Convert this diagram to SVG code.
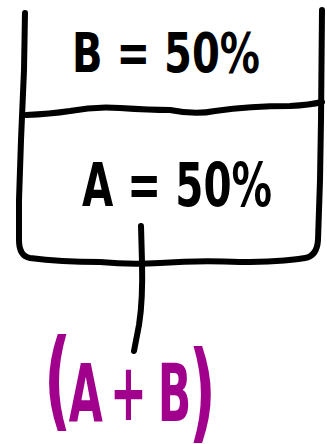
<svg xmlns="http://www.w3.org/2000/svg" width="327" height="444" viewBox="0 0 327 444">
<style>
.ink{fill:none;stroke:#000;stroke-width:6;stroke-linecap:round;stroke-linejoin:round}
.lbl{font-family:"DejaVu Sans","Liberation Sans",sans-serif;font-weight:bold;fill:#000}
.mix{font-family:"DejaVu Sans","Liberation Sans",sans-serif;font-weight:bold;fill:#A0008C}
</style>
<rect width="327" height="444" fill="#fff"/>
<g id="container">
<path class="ink" d="M25,13 L24,70 L21,140 L19,200 L19,240 Q19,256 30,258 Q60,262 100,262 Q130,265 160,263 Q200,260 240,262 Q280,262 305,258 Q317,256 318,240 L320,180 L321,120 L322,10"/>
<path class="ink" d="M26,115 Q50,114 70,111 Q95,106 120,108 Q150,110 170,110 Q195,115 215,111 Q250,106 290,106 Q310,105 322,102"/>
</g>
<g id="nodeB">
<text class="lbl" x="72" y="72" font-size="56" textLength="188" lengthAdjust="spacingAndGlyphs">B = 50%</text>
</g>
<g id="nodeA">
<text class="lbl" x="82" y="206" font-size="60" textLength="190" lengthAdjust="spacingAndGlyphs">A = 50%</text>
</g>
<g id="connectors">
<path class="ink" d="M141,226 L142,262 Q143,300 139,325 L134,351"/>
</g>
<g id="nodeAB">
<text class="mix" font-size="80" transform="scale(0.55,1)"><tspan x="80" y="417" font-size="108">(</tspan><tspan x="125" y="422">A</tspan><tspan x="200" y="420">+</tspan><tspan x="287" y="421">B</tspan><tspan x="343" y="429" font-size="108">)</tspan></text>
</g>
</svg>
